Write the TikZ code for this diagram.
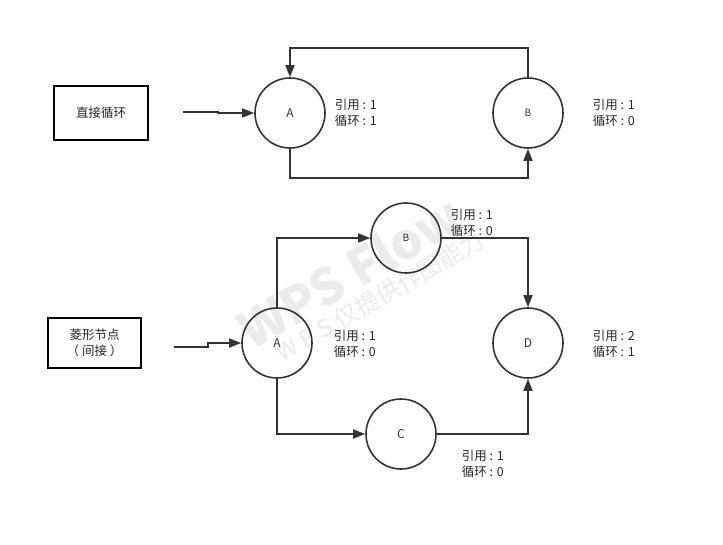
\documentclass[tikz,border=0pt]{standalone}
\usepackage{fontspec}
\setmainfont{Noto Sans CJK SC}
\usetikzlibrary{arrows.meta}
\begin{document}
\begin{tikzpicture}[x=1pt,y=-1pt,
  line width=1.6pt, draw=black!80,
  conn/.style={draw=black!80, line width=1.6pt},
  arr/.style={conn, -{Triangle[length=12pt,width=9pt]}},
  circ/.style={circle, draw=black!80, line width=1.6pt, minimum size=70pt, inner sep=0pt, font=\fontsize{12}{14}\selectfont, text=black!80},
  box/.style={rectangle, draw=black, line width=1.6pt, align=center, inner sep=0pt, font=\fontsize{12.5}{16}\selectfont, text=black!85},
  lbl/.style={anchor=west, align=left, inner sep=0pt, font=\fontsize{12.5}{16}\selectfont, text=black!85},
  wm/.style={text=black!8, inner sep=0pt}
]
\useasboundingbox[fill=white] (0,0) rectangle (723,544);

% watermark
\node[wm, rotate=30, font=\fontsize{50}{50}\bfseries\selectfont] (wm1) at (350,272) {WPS Flow};
\node[wm, rotate=30, font=\fontsize{24}{24}\selectfont] (wm2) at (380,296) {W P S 仅提供作图能力};

% top diagram
\node[box, minimum width=94pt, minimum height=54pt] (t1) at (101,113) {直接循环};
\coordinate (s1) at (183,112);
\node[circ] (A1) at (290,113) {A};
\node[circ, font=\fontsize{10}{12}\selectfont] (B1) at (528,113) {B};
\node[lbl] (la1) at (334,113) {引用 : 1\\循环 : 1};
\node[lbl] (lb1) at (592,113) {引用 : 1\\循环 : 0};

\draw[arr] (s1) -- (218,112) -- (218,113) -- (A1.west);
\draw[arr] (B1.north) -- (528,48) -- (290,48) -- (A1.north);
\draw[arr] (A1.south) -- (290,178) -- (528,178) -- (B1.south);

% bottom diagram
\node[box, minimum width=93pt, minimum height=50pt] (t2) at (94.5,343) {菱形节点\\（ 间接 ）};
\coordinate (s2) at (174,347);
\node[circ] (A2) at (277,343) {A};
\node[circ, font=\fontsize{10}{12}\selectfont] (B2) at (406,238) {B};
\node[circ] (C2) at (401,434) {C};
\node[circ] (D2) at (528,343) {D};
\node[lbl] (la2) at (333,344) {引用 : 1\\循环 : 0};
\node[lbl] (lb2) at (450,223) {引用 : 1\\循环 : 0};
\node[lbl] (lc2) at (461,464) {引用 : 1\\循环 : 0};
\node[lbl] (ld2) at (592,344) {引用 : 2\\循环 : 1};

\draw[arr] (s2) -- (208,347) -- (208,343) -- (A2.west);
\draw[arr] (A2.north) -- (277,238) -- (B2.west);
\draw[arr] (B2.east) -- (528,238) -- (D2.north);
\draw[arr] (A2.south) -- (277,434) -- (C2.west);
\draw[arr] (C2.east) -- (528,434) -- (D2.south);
\end{tikzpicture}
\end{document}
